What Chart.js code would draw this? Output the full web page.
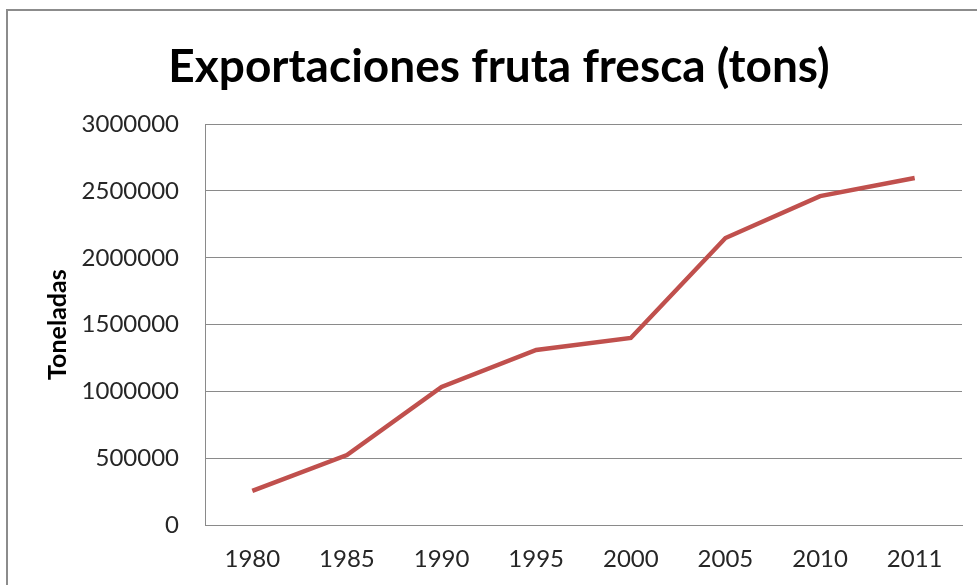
<!DOCTYPE html>
<html>
<head>
<meta charset="utf-8">
<script src="https://cdn.jsdelivr.net/npm/chart.js@4/dist/chart.umd.min.js"></script>
<style>
  html, body { margin: 0; padding: 0; background: #fff; overflow: hidden; }
  #frame {
    position: absolute; left: 6px; top: 9px;
    width: 984px; height: 600px;
    border: 2px solid #8c8c8c; background: #fff;
  }
  #frame canvas { display: block; }
</style>
</head>
<body>
<div id="frame"><canvas id="chart" width="982" height="598"></canvas></div>
<script>
const years = ['1980', '1985', '1990', '1995', '2000', '2005', '2010', '2011'];
const tons = [255000, 524000, 1033000, 1310000, 1400000, 2148000, 2462000, 2597000];
const yTicks = [0, 500000, 1000000, 1500000, 2000000, 2500000, 3000000];

const FONT = 'Lato, "Open Sans", sans-serif';
const GRID = '#8a8a8a';
const TEXT = '#262626';

new Chart(document.getElementById('chart'), {
  type: 'line',
  data: {
    labels: years,
    datasets: [{
      data: tons,
      borderColor: '#c0504d',
      borderWidth: 4.5,
      pointRadius: 0,
      tension: 0,
      fill: false
    }]
  },
  options: {
    responsive: false,
    animation: false,
    // equal side padding keeps the title centred on the whole frame
    layout: { padding: { left: 28, right: 28, top: 0, bottom: 0 } },
    plugins: {
      legend: { display: false },
      tooltip: { enabled: false },
      title: {
        display: true,
        text: 'Exportaciones fruta fresca (tons)',
        color: '#000',
        font: { family: FONT, size: 46, weight: 'bold', lineHeight: 1.2 },
        padding: { top: 29, bottom: 29 }
      }
    },
    scales: {
      x: {
        offset: true,
        grid: { display: false, drawTicks: false },
        border: { display: true, color: GRID, width: 1 },
        ticks: { color: TEXT, padding: 20, font: { family: FONT, size: 24 }, maxRotation: 0 },
        afterFit: s => { s.height = 84; }
      },
      y: {
        min: 0,
        max: 3000000,
        afterBuildTicks: s => { s.ticks = yTicks.map(v => ({ value: v })); },
        grid: { color: GRID, lineWidth: 1, drawTicks: false },
        border: { display: true, color: GRID, width: 1 },
        ticks: { color: TEXT, padding: 26, font: { family: FONT, size: 24 }, callback: v => String(v) },
        title: {
          display: true,
          text: 'Toneladas',
          color: '#000',
          font: { family: FONT, size: 25, weight: 'bold', lineHeight: 1.2 },
          padding: { top: 7, bottom: 0 }
        },
        afterFit: s => { s.width = 169; }
      }
    }
  }
});
</script>
</body>
</html>
